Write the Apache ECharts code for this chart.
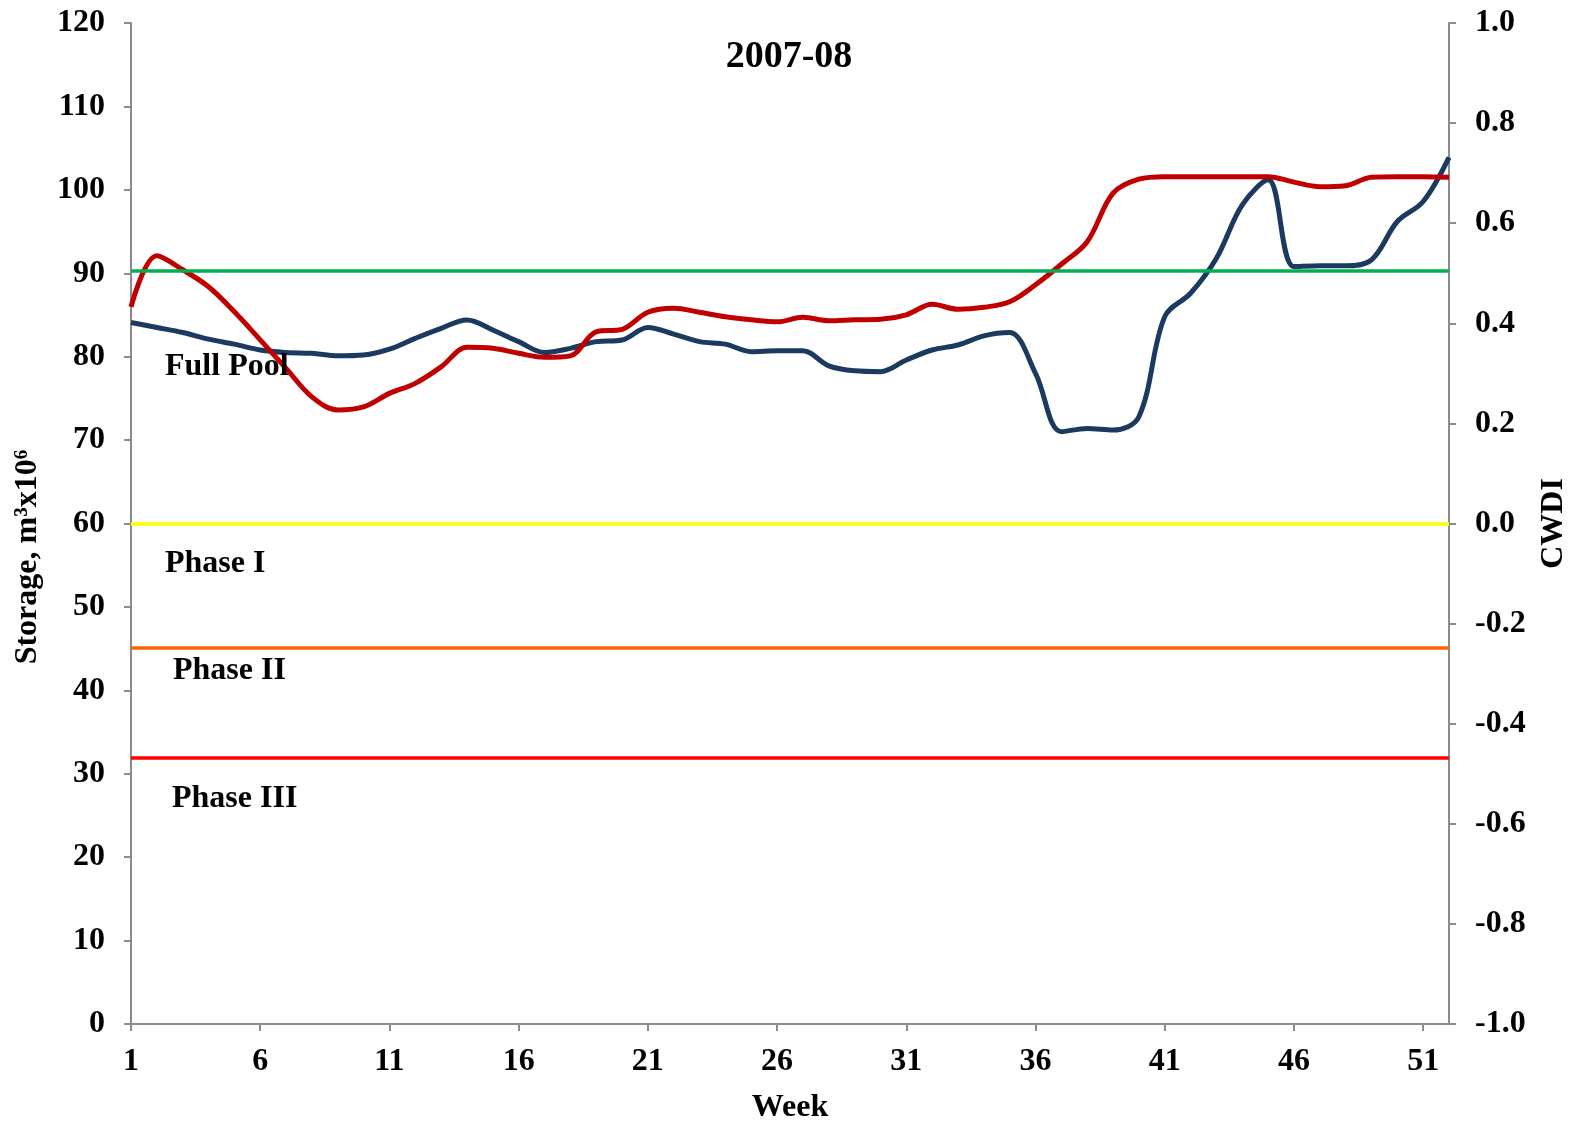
<!DOCTYPE html>
<html><head><meta charset="utf-8">
<script src="https://cdn.jsdelivr.net/npm/echarts@6/dist/echarts.min.js"></script>
<style>html,body{margin:0;padding:0;background:#fff}#c{width:1570px;height:1123px}</style>
</head><body><div id="c"></div>
<script>
var weeks = [];
for (var i = 1; i <= 52; i++) weeks.push(String(i));

var storage = [84.1,83.5,82.9,82.1,81.5,80.8,80.5,80.4,80.1,80.2,80.9,82.2,83.4,84.4,83.2,81.8,80.5,81.0,81.8,82.0,
  83.5,82.7,81.8,81.5,80.6,80.7,80.7,78.9,78.3,78.2,79.6,80.8,81.4,82.5,82.9,78.0,71.0,71.4,71.2,72.8,
  84.8,87.6,91.8,98.2,101.2,90.8,90.9,90.9,91.6,96.2,98.6,103.9];

var cwdi = [0.433,0.535,0.507,0.473,0.423,0.367,0.310,0.253,0.227,0.233,0.260,0.280,0.313,0.352,0.350,0.340,0.332,0.335,0.383,0.388,
  0.422,0.430,0.422,0.413,0.407,0.403,0.412,0.405,0.407,0.408,0.417,0.438,0.428,0.432,0.443,0.477,0.518,0.563,0.660,0.688,
  0.693,0.693,0.693,0.693,0.693,0.682,0.673,0.675,0.692,0.693,0.693,0.692];

var thresholds = [
  {name: 'Full Pool', value: 90.3, color: '#00B050'},
  {name: 'Phase I', value: 60.0, color: '#FFFF00'},
  {name: 'Phase II', value: 45.1, color: '#FF6600'},
  {name: 'Phase III', value: 31.9, color: '#FF0000'}
];
var leftTicks = {min: 0, max: 120, interval: 10};
var rightTicks = {min: -1, max: 1, interval: 0.2};

var FONT = '"Liberation Serif","Times New Roman",serif';
var chart = echarts.init(document.getElementById('c'));
var axisLine = {lineStyle: {color: '#8c8c8c', width: 2}};
var lblStyle = {color: '#000', fontFamily: FONT, fontWeight: 'bold', fontSize: 32};

chart.setOption({
  animation: false,
  backgroundColor: '#fff',
  title: {text: '2007-08', left: 784, top: 33, textAlign: 'center',
    textStyle: {fontFamily: FONT, fontWeight: 'bold', fontSize: 38, color: '#000'}},
  grid: {left: 131, right: 121, top: 23, bottom: 99, outerBoundsMode: 'none', containLabel: false},
  xAxis: {type: 'category', data: weeks, boundaryGap: false,
    name: 'Week', nameLocation: 'middle', nameGap: 68,
    nameTextStyle: lblStyle,
    axisLine: axisLine,
    axisTick: {show: true, interval: 4, length: 7, lineStyle: {color: '#8c8c8c', width: 2}},
    axisLabel: Object.assign({interval: 4, margin: 22}, lblStyle),
    splitLine: {show: false}},
  yAxis: [
    {type: 'value', min: leftTicks.min, max: leftTicks.max, interval: leftTicks.interval,
      axisLine: Object.assign({show: true}, axisLine),
      axisTick: {show: true, length: 7, lineStyle: {color: '#8c8c8c', width: 2}},
      axisLabel: Object.assign({margin: 26}, lblStyle),
      splitLine: {show: false}},
    {type: 'value', min: rightTicks.min, max: rightTicks.max, interval: rightTicks.interval, position: 'right',
      name: 'CWDI', nameLocation: 'middle', nameGap: 89, nameRotate: 90,
      nameTextStyle: lblStyle,
      axisLine: Object.assign({show: true}, axisLine),
      axisTick: {show: true, length: 7, lineStyle: {color: '#8c8c8c', width: 2}},
      axisLabel: Object.assign({margin: 26, formatter: function (v) { return v.toFixed(1); }}, lblStyle),
      splitLine: {show: false}}
  ],
  series: [
    {name: 'Storage', type: 'line', yAxisIndex: 0, data: storage, smooth: 0.35, showSymbol: false,
      lineStyle: {color: '#1B3A60', width: 5}, z: 3,
      markLine: {silent: true, symbol: 'none', label: {show: false},
        data: thresholds.map(function (t) { return {yAxis: t.value, lineStyle: {color: t.color, width: 3.5, type: 'solid'}}; })}},
    {name: 'CWDI', type: 'line', yAxisIndex: 1, data: cwdi, smooth: 0.35, showSymbol: false,
      lineStyle: {color: '#C00000', width: 5}, z: 4}
  ],
  graphic: [
    {type: 'text', x: 28, y: 557, rotation: Math.PI / 2,
      style: {text: 'Storage, m³x10⁶', font: 'bold 32px ' + FONT, fill: '#000', align: 'center', verticalAlign: 'middle'}, z: 10},
    {type: 'text', left: 165, top: 351, style: {text: 'Full Pool', font: 'bold 32px ' + FONT, fill: '#000'}, z: 10},
    {type: 'text', left: 165, top: 548, style: {text: 'Phase I', font: 'bold 32px ' + FONT, fill: '#000'}, z: 10},
    {type: 'text', left: 173, top: 655, style: {text: 'Phase II', font: 'bold 32px ' + FONT, fill: '#000'}, z: 10},
    {type: 'text', left: 172, top: 783, style: {text: 'Phase III', font: 'bold 32px ' + FONT, fill: '#000'}, z: 10}
  ]
});
</script></body></html>
